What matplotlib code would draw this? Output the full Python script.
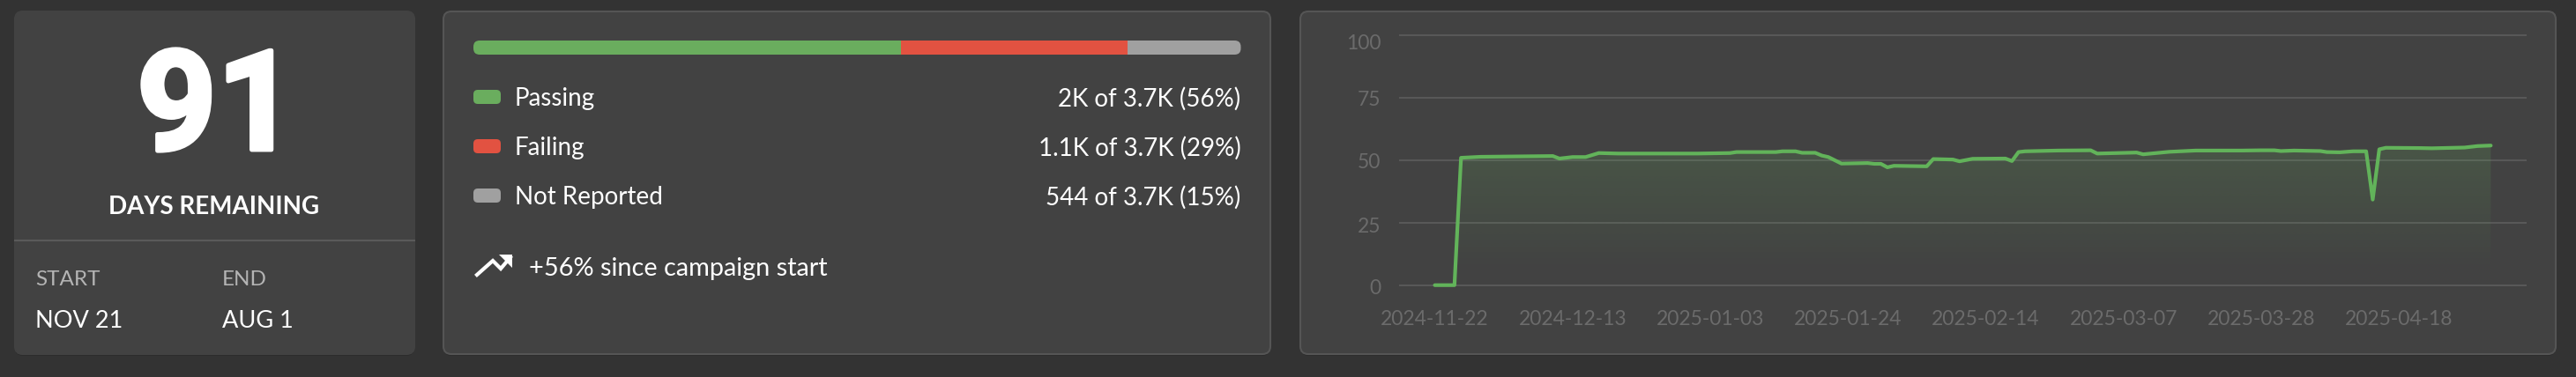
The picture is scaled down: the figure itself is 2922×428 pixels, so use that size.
import matplotlib
matplotlib.use("Agg")
import matplotlib.pyplot as plt
import matplotlib.dates as mdates
import matplotlib.patheffects as pe
from matplotlib.patches import FancyBboxPatch, Polygon
from matplotlib.transforms import ScaledTranslation
import numpy as np
import pandas as pd

plt.rcParams['font.family'] = ['Lato', 'DejaVu Sans']

# ---- data ----
days_remaining = "91"
days_label = "DAYS REMAINING"
start_label, end_label = "START", "END"
start_value, end_value = "NOV 21", "AUG 1"

status_names = ["Passing", "Failing", "Not Reported"]
status_share = [55.7, 29.5, 14.8]
status_text = ["2K of 3.7K (56%)", "1.1K of 3.7K (29%)", "544 of 3.7K (15%)"]
status_colors = ["#6aad5e", "#e25241", "#a0a0a0"]
trend_text = "+56% since campaign start"

dates = ["2024-11-22", "2024-11-25", "2024-11-26", "2024-11-29", "2024-12-10", "2024-12-11",
         "2024-12-13", "2024-12-15", "2024-12-17", "2024-12-20", "2025-01-01", "2025-01-06",
         "2025-01-07", "2025-01-13", "2025-01-14", "2025-01-16", "2025-01-17", "2025-01-19",
         "2025-01-20", "2025-01-21", "2025-01-23", "2025-01-27", "2025-01-28", "2025-01-29",
         "2025-01-30", "2025-01-31", "2025-02-05", "2025-02-06", "2025-02-09", "2025-02-10",
         "2025-02-12", "2025-02-17", "2025-02-18", "2025-02-19", "2025-02-20", "2025-02-25",
         "2025-03-02", "2025-03-03", "2025-03-09", "2025-03-10", "2025-03-14", "2025-03-18",
         "2025-03-25", "2025-03-28", "2025-03-30", "2025-03-31", "2025-04-02", "2025-04-06",
         "2025-04-07", "2025-04-09", "2025-04-11", "2025-04-13", "2025-04-14", "2025-04-15",
         "2025-04-16", "2025-04-21", "2025-04-23", "2025-04-28", "2025-04-30", "2025-05-02"]
values = [0, 0, 50.9, 51.3, 51.6, 50.6,
          51.2, 51.2, 52.8, 52.6, 52.6, 52.8,
          53.2, 53.2, 53.5, 53.5, 52.9, 52.9,
          51.8, 51.2, 48.6, 48.8, 48.5, 48.5,
          47.1, 47.7, 47.5, 50.4, 50.2, 49.5,
          50.5, 50.6, 49.6, 53.2, 53.5, 53.8,
          53.9, 52.6, 53.0, 52.3, 53.3, 53.8,
          53.8, 53.9, 53.9, 53.6, 53.8, 53.6,
          53.2, 53.1, 53.5, 53.5, 34.2, 54.3,
          54.9, 54.8, 54.7, 55.0, 55.6, 55.8]
x_ticks = ["2024-11-22", "2024-12-13", "2025-01-03", "2025-01-24", "2025-02-14",
           "2025-03-07", "2025-03-28", "2025-04-18"]
y_ticks = [0, 25, 50, 75, 100]

# ---- layout ----
W, H = 2922, 428
BG, PANEL, EDGE = "#333333", "#424242", "#555555"
fig = plt.figure(figsize=(W / 100, H / 100), dpi=100, facecolor=BG)
bg = fig.add_axes([0, 0, 1, 1])
bg.set_xlim(0, W)
bg.set_ylim(H, 0)
bg.axis("off")


def px_axes(x0, y0, x1, y1, **kw):
    return fig.add_axes([x0 / W, 1 - y1 / H, (x1 - x0) / W, (y1 - y0) / H], **kw)


def panel(x0, y0, x1, y1, edge):
    bg.add_patch(FancyBboxPatch((x0, y0 + 2), x1 - x0, y1 - y0, boxstyle="round,pad=0,rounding_size=9",
                                fc="#2c2c2c", ec="none", zorder=1))
    bg.add_patch(FancyBboxPatch((x0, y0), x1 - x0, y1 - y0, boxstyle="round,pad=0,rounding_size=9",
                                fc=PANEL, ec=edge, lw=1.5, zorder=2))


panel(17, 13, 470, 402, PANEL)
panel(503, 13, 1441, 402, EDGE)
panel(1475, 13, 2899, 402, EDGE)

# ---- left card ----
T = dict(zorder=5)
big = bg.text(246, 111, days_remaining, color="white", fontsize=114, fontweight="bold", family="Roboto",
              ha="center", va="center_baseline", **T)
big.set_path_effects([pe.withStroke(linewidth=3.5, foreground="white")])
bg.text(243, 235, days_label, color="white", fontsize=20, fontweight="bold", ha="center", va="center", **T)
bg.plot([17, 470], [273, 273], color="#5a5a5a", lw=1.5, zorder=4)
bg.text(40, 317, start_label, color="#b4b4b4", fontsize=17.5, ha="left", va="center", **T)
bg.text(252, 317, end_label, color="#b4b4b4", fontsize=17.5, ha="left", va="center", **T)
bg.text(40, 365, start_value, color="white", fontsize=19.5, ha="left", va="center", **T)
bg.text(252, 365, end_value, color="white", fontsize=19.5, ha="left", va="center", **T)

# ---- status card ----
bar_ax = px_axes(537, 46, 1407.5, 62)
bar_ax.set_xlim(0, sum(status_share))
bar_ax.set_ylim(0, 1)
bar_ax.axis("off")
left = 0
clip = FancyBboxPatch((537, 46), 870.5, 16, boxstyle="round,pad=0,rounding_size=7",
                      transform=bg.transData, fc="none", ec="none")
for share, color in zip(status_share, status_colors):
    b = bar_ax.barh(0.5, share, height=1, left=left, color=color, linewidth=0)
    b[0].set_clip_path(clip)
    left += share

for i, (name, txt, color) in enumerate(zip(status_names, status_text, status_colors)):
    yc = 110 + 56 * i
    bg.add_patch(FancyBboxPatch((537, yc - 8), 31, 16, boxstyle="round,pad=0,rounding_size=5",
                                fc=color, ec="none", zorder=5))
    bg.text(584, yc + 2, name, color="white", fontsize=20, ha="left", va="center", **T)
    bg.text(1407.5, yc + 2, txt, color="white", fontsize=20, ha="right", va="center", **T)

bg.plot([541, 559, 568, 579], [312, 296, 305, 292], color="white", lw=3, zorder=5,
        solid_joinstyle="miter")
bg.add_patch(Polygon([[566, 289], [581, 289], [581, 304]], fc="white", ec="none", zorder=5))
bg.text(600, 305, trend_text, color="white", fontsize=20.8, ha="left", va="center", **T)

# ---- trend chart ----
x = pd.to_datetime(dates)
xn = mdates.date2num(x)
px_per_day = 7.44
day0 = xn[0]
ax = px_axes(1587.4, 34, 2866, 329.4)
ax.patch.set_alpha(0)
ax.set_zorder(3)

fill = Polygon(np.column_stack([np.r_[xn, xn[-1], xn[0]], np.r_[values, 0, 0]]), closed=True,
               transform=ax.transData, fc="none", ec="none")
ax.add_patch(fill)
grad = np.zeros((256, 2, 4))
grad[..., :3] = matplotlib.colors.to_rgb("#6ab85f")
grad[..., 3] = (np.linspace(0.17, 0, 256))[:, None]
img = ax.imshow(grad, extent=[xn[0], xn[-1], 5, 56], origin="upper", aspect="auto", zorder=1,
                interpolation="bilinear")
img.set_clip_path(fill)

ax.plot(xn, values, color="#62b35a", lw=3, solid_capstyle="round", solid_joinstyle="round", zorder=3)
ax.set_xlim(day0 - 40.1 / px_per_day, day0 + (2866 - 1627.5) / px_per_day)
ax.set_ylim(-2, 102)
ax.set_yticks(y_ticks)
ax.set_xticks(mdates.date2num(pd.to_datetime(x_ticks)))
ax.set_xticklabels(x_ticks)
ax.grid(axis="y", color="#585858", lw=1.5, zorder=0)
ax.set_axisbelow(True)
for s in ax.spines.values():
    s.set_visible(False)
ax.tick_params(axis="both", length=0, labelcolor="#6b6b6b", labelsize=16.5)
ax.tick_params(axis="x", pad=16.5)
ax.tick_params(axis="y", pad=15)
y_offsets = [1.5, 2.5, 1, 1, 8]
for lab, off in zip(ax.get_yticklabels(), y_offsets):
    lab.set_transform(lab.get_transform() + ScaledTranslation(0, -off / 100, fig.dpi_scale_trans))

fig.savefig("out.png", dpi=100, facecolor=BG)
